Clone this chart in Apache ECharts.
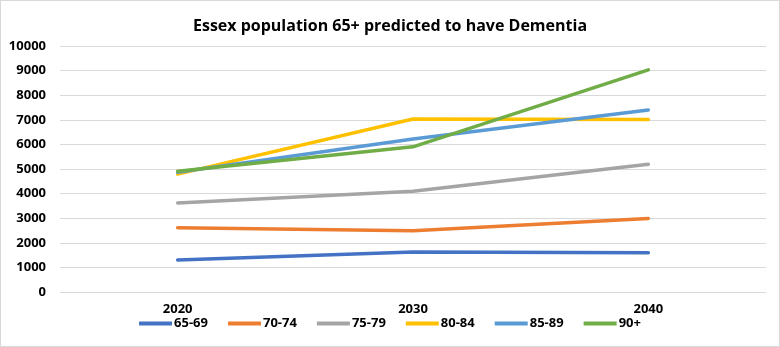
<!DOCTYPE html>
<html>
<head>
<meta charset="utf-8">
<script src="https://cdn.jsdelivr.net/npm/echarts@6/dist/echarts.min.js"></script>
<style>
html,body{margin:0;padding:0;background:#fff;}
#c{width:778px;height:345px;border:1px solid #d9d9d9;}
</style>
</head>
<body>
<div id="c"></div>
<script>
const categories = ['2020', '2030', '2040'];
const seriesNames = ['65-69', '70-74', '75-79', '80-84', '85-89', '90+'];
const s6569 = [1300, 1630, 1600];
const s7074 = [2610, 2490, 2990];
const s7579 = [3620, 4100, 5190];
const s8084 = [4790, 7030, 7010];
const s8589 = [4870, 6220, 7400];
const s90p = [4910, 5900, 9030];
const yTicks = [0, 1000, 2000, 3000, 4000, 5000, 6000, 7000, 8000, 9000, 10000];

const colors = ['#4472C4', '#ED7D31', '#A5A5A5', '#FFC000', '#5B9BD5', '#70AD47'];
const values = [s6569, s7074, s7579, s8084, s8589, s90p];
const font = '"Open Sans", "Liberation Sans", sans-serif';

const chart = echarts.init(document.getElementById('c'), null, {renderer: 'canvas'});
chart.setOption({
  animation: false,
  color: colors,
  title: {
    text: 'Essex population 65+ predicted to have Dementia',
    left: 'center', top: 12,
    textStyle: {fontFamily: font, fontWeight: 'bold', fontSize: 16, color: '#000'}
  },
  legend: {
    bottom: 11, left: 'center',
    icon: 'rect', itemWidth: 33, itemHeight: 4, itemGap: 20,
    textStyle: {fontFamily: font, fontWeight: 'bold', fontSize: 13, color: '#000', padding: [0,0,0,-3]},
    data: seriesNames
  },
  grid: {left: 59, right: 13, top: 45, bottom: 54},
  xAxis: {
    type: 'category', data: categories, boundaryGap: true,
    axisLine: {show: false}, axisTick: {show: false},
    axisLabel: {fontFamily: font, fontWeight: 'bold', fontSize: 13, color: '#000', margin: 11}
  },
  yAxis: {
    type: 'value', min: yTicks[0], max: yTicks[yTicks.length-1], interval: 1000,
    axisLine: {show: false}, axisTick: {show: false},
    axisLabel: {fontFamily: font, fontWeight: 'bold', fontSize: 13, color: '#000', margin: 14,
      formatter: v => String(v)},
    splitLine: {lineStyle: {color: '#d9d9d9', width: 1}}
  },
  series: seriesNames.map((n, i) => ({
    name: n, type: 'line', data: values[i],
    symbol: 'none', lineStyle: {width: 3.5, color: colors[i], cap: 'round'},
    itemStyle: {color: colors[i]}
  }))
});
</script>
</body>
</html>
